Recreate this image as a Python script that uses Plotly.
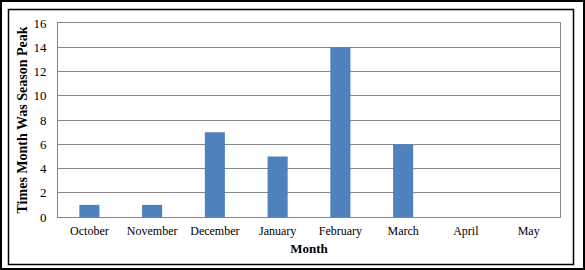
import plotly.graph_objects as go

months = ["October", "November", "December", "January", "February", "March", "April", "May"]
peaks = [1, 1, 7, 5, 14, 6, 0, 0]
y_ticks = [0, 2, 4, 6, 8, 10, 12, 14, 16]

W, H = 585, 270
L, R, T, B = 58, 25, 23, 53
pw, ph = W - L - R, H - T - B

def px(x):
    return (x - L) / pw

def py(y):
    return (H - B - y) / ph

fig = go.Figure(go.Bar(x=months, y=peaks, marker_color="#4F81BD", marker_line_width=0))

fig.update_layout(
    width=W, height=H,
    margin=dict(l=L, r=R, t=T, b=B),
    paper_bgcolor="white", plot_bgcolor="white",
    bargap=0.68,
    showlegend=False,
    font=dict(family="Liberation Serif, Times New Roman, serif", size=12, color="black"),
    xaxis=dict(
        title=dict(text="<b>Month</b>", standoff=6, font=dict(size=13)),
        showgrid=False, showline=True, linecolor="#868686", linewidth=1, mirror=True,
        ticks="outside", ticklen=3, tickcolor="rgba(0,0,0,0)",
    ),
    yaxis=dict(
        title=dict(text="<b>Times Month Was Season Peak</b>", standoff=2, font=dict(size=14)),
        range=[0, 16], tickvals=y_ticks, tickfont=dict(size=13),
        showgrid=True, gridcolor="#868686", gridwidth=1,
        showline=True, linecolor="#868686", linewidth=1, mirror=True,
        ticks="outside", ticklen=8, tickcolor="rgba(0,0,0,0)",
        zeroline=False,
    ),
    shapes=[
        dict(type="rect", xref="paper", yref="paper",
             x0=px(1), x1=px(584), y0=py(269), y1=py(1),
             line=dict(color="black", width=2), layer="below"),
        dict(type="rect", xref="paper", yref="paper",
             x0=px(8.5), x1=px(573.5), y0=py(264.5), y1=py(9.5),
             line=dict(color="black", width=1.5), layer="below"),
    ],
)

fig.write_html("out.html")
